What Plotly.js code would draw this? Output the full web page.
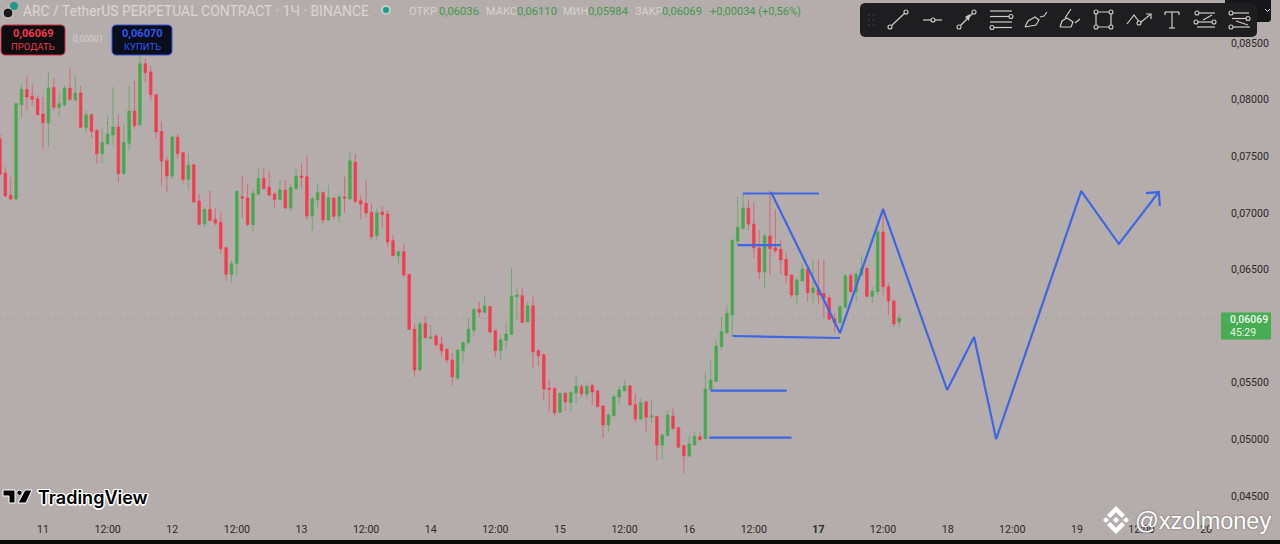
<!DOCTYPE html>
<html><head><meta charset="utf-8">
<script src="https://cdn.plot.ly/plotly-3.0.1.min.js"></script>
<style>html,body{margin:0;padding:0;background:#b5adab;overflow:hidden}#c{width:1280px;height:544px}</style>
</head><body><div id="c"></div>
<script>
// Hourly ARC/USDT candles; first candle is 8 hours before the "11" date tick
const firstHour = -8;
const opens = [0.07655,0.07352,0.07155,0.07122,0.07955,0.08091,0.08029,0.08008,0.07873,0.07793,0.08108,0.07932,0.07955,0.08102,0.07996,0.08058,0.07752,0.07867,0.07729,0.07523,0.07611,0.07687,0.07758,0.07346,0.07614,0.07899,0.07779,0.08317,0.08244,0.08043,0.07720,0.07461,0.07325,0.07670,0.07531,0.07296,0.07425,0.07105,0.06904,0.07031,0.06943,0.06916,0.06693,0.06457,0.06551,0.07143,0.07131,0.06898,0.07166,0.07305,0.07228,0.07166,0.07119,0.07202,0.07043,0.07213,0.07325,0.07319,0.06972,0.07113,0.07181,0.06937,0.07131,0.06972,0.07140,0.07122,0.07449,0.07108,0.07084,0.07005,0.06796,0.07008,0.06990,0.06755,0.06622,0.06657,0.06457,0.05972,0.05613,0.06025,0.05892,0.05913,0.05842,0.05795,0.05701,0.05542,0.05783,0.05854,0.05963,0.06148,0.06122,0.06172,0.05960,0.05783,0.05872,0.05927,0.06260,0.06269,0.06039,0.06180,0.05783,0.05748,0.05451,0.05451,0.05239,0.05407,0.05327,0.05409,0.05465,0.05401,0.05477,0.05427,0.05295,0.05127,0.05209,0.05371,0.05430,0.05474,0.05309,0.05180,0.05330,0.05198,0.05203,0.04950,0.05033,0.05206,0.05103,0.04944,0.04853,0.04950,0.05024,0.05006,0.05442,0.05512,0.05818,0.05942,0.06101,0.06751,0.06863,0.07043,0.06902,0.06690,0.06478,0.06796,0.06690,0.06678,0.06590,0.06451,0.06275,0.06401,0.06504,0.06295,0.06325,0.06289,0.06251,0.06066,0.06030,0.06166,0.06445,0.06304,0.06451,0.06510,0.06263,0.06304,0.06831,0.06348,0.06222,0.06036];
const highs = [0.07699,0.07405,0.07316,0.07970,0.08141,0.08208,0.08132,0.08038,0.08023,0.08244,0.08191,0.08043,0.08126,0.08279,0.08214,0.08120,0.07905,0.07876,0.07743,0.07743,0.07861,0.08111,0.07867,0.07787,0.08120,0.08170,0.08420,0.08367,0.08297,0.08043,0.07808,0.07493,0.07684,0.07699,0.07537,0.07523,0.07425,0.07169,0.07037,0.07199,0.07043,0.07007,0.06693,0.06581,0.07193,0.07325,0.07260,0.07202,0.07393,0.07393,0.07372,0.07187,0.07290,0.07290,0.07252,0.07393,0.07437,0.07505,0.07143,0.07255,0.07187,0.07246,0.07137,0.07157,0.07319,0.07531,0.07520,0.07157,0.07284,0.07084,0.07040,0.07061,0.07025,0.06805,0.06663,0.06731,0.06460,0.06025,0.06040,0.06090,0.06010,0.05930,0.05907,0.05804,0.05760,0.05795,0.05863,0.06069,0.06157,0.06216,0.06260,0.06178,0.05966,0.05922,0.06039,0.06519,0.06342,0.06334,0.06216,0.06260,0.05795,0.05754,0.05524,0.05459,0.05412,0.05421,0.05421,0.05560,0.05489,0.05501,0.05489,0.05436,0.05303,0.05230,0.05401,0.05471,0.05524,0.05480,0.05407,0.05362,0.05342,0.05342,0.05206,0.05053,0.05259,0.05274,0.05112,0.04950,0.05030,0.05068,0.05068,0.05589,0.05701,0.05877,0.06077,0.06186,0.06760,0.07140,0.07166,0.07119,0.07090,0.06843,0.06819,0.07196,0.07031,0.06760,0.06643,0.06457,0.06422,0.06554,0.06519,0.06584,0.06590,0.06584,0.06275,0.06113,0.06186,0.06466,0.06472,0.06481,0.06628,0.06519,0.06348,0.06849,0.07040,0.06378,0.06231,0.06110];
const lows = [0.07331,0.07140,0.07116,0.07116,0.07837,0.07905,0.07949,0.07861,0.07561,0.07581,0.07905,0.07861,0.07943,0.07993,0.07990,0.07749,0.07708,0.07661,0.07440,0.07440,0.07602,0.07596,0.07272,0.07340,0.07552,0.07743,0.07773,0.08155,0.07993,0.07655,0.07243,0.07184,0.07302,0.07478,0.07258,0.07208,0.07090,0.06890,0.06875,0.06919,0.06890,0.06640,0.06404,0.06384,0.06448,0.06951,0.06884,0.06834,0.07157,0.07202,0.07149,0.07046,0.07113,0.07037,0.07019,0.07208,0.07216,0.06937,0.06843,0.07040,0.06908,0.06931,0.06943,0.06922,0.07001,0.07119,0.07093,0.06943,0.06961,0.06766,0.06761,0.06864,0.06702,0.06616,0.06549,0.06431,0.05966,0.05554,0.05607,0.05892,0.05886,0.05819,0.05731,0.05672,0.05480,0.05536,0.05672,0.05842,0.05913,0.06077,0.06113,0.05936,0.05730,0.05701,0.05795,0.05922,0.06054,0.06030,0.06033,0.05636,0.05648,0.05342,0.05245,0.05200,0.05233,0.05250,0.05253,0.05318,0.05371,0.05354,0.05303,0.05283,0.05009,0.05059,0.05203,0.05303,0.05421,0.05295,0.05148,0.05174,0.05068,0.05142,0.04812,0.04818,0.05027,0.05083,0.04924,0.04700,0.04847,0.04944,0.04989,0.05000,0.05436,0.05507,0.05789,0.05936,0.05907,0.06716,0.06849,0.06849,0.06598,0.06413,0.06333,0.06451,0.06648,0.06460,0.06378,0.06254,0.06195,0.06392,0.06216,0.06207,0.06195,0.06077,0.06054,0.05942,0.06025,0.06160,0.06295,0.06216,0.06442,0.06254,0.06207,0.06275,0.06275,0.06098,0.05995,0.05984];
const closes = [0.07340,0.07149,0.07122,0.07964,0.08091,0.08023,0.08002,0.07867,0.07796,0.08102,0.07932,0.07964,0.08102,0.08002,0.08058,0.07755,0.07867,0.07720,0.07523,0.07620,0.07696,0.07758,0.07346,0.07620,0.07899,0.07770,0.08317,0.08238,0.08043,0.07714,0.07458,0.07325,0.07670,0.07523,0.07296,0.07420,0.07096,0.06899,0.07031,0.06934,0.06910,0.06684,0.06457,0.06551,0.07190,0.07131,0.06898,0.07172,0.07302,0.07216,0.07157,0.07119,0.07202,0.07043,0.07222,0.07325,0.07313,0.06972,0.07122,0.07181,0.06937,0.07134,0.06969,0.07140,0.07131,0.07461,0.07099,0.07078,0.06999,0.06790,0.06999,0.06984,0.06743,0.06622,0.06657,0.06451,0.05972,0.05613,0.06019,0.05898,0.05904,0.05836,0.05783,0.05701,0.05554,0.05789,0.05854,0.05972,0.06148,0.06122,0.06178,0.05948,0.05783,0.05880,0.05930,0.06266,0.06275,0.06033,0.06180,0.05771,0.05736,0.05445,0.05442,0.05236,0.05407,0.05330,0.05415,0.05471,0.05401,0.05468,0.05418,0.05289,0.05127,0.05215,0.05377,0.05436,0.05471,0.05303,0.05180,0.05324,0.05195,0.05206,0.04950,0.05039,0.05215,0.05097,0.04930,0.04853,0.04959,0.05027,0.04997,0.05445,0.05524,0.05824,0.05951,0.06113,0.06760,0.06872,0.07043,0.06902,0.06690,0.06478,0.06796,0.06684,0.06666,0.06584,0.06448,0.06275,0.06407,0.06504,0.06295,0.06336,0.06275,0.06248,0.06060,0.06030,0.06172,0.06445,0.06304,0.06457,0.06510,0.06263,0.06307,0.06834,0.06348,0.06222,0.06019,0.06069];

// Drawn forecast zigzag and level lines (hours since the "11" tick, price)
const zigzagHours = [135.2,148,156,167.9,172.9,177,192.8,199.8,207.2];
const zigzagPrices = [0.07184,0.05939,0.07034,0.05436,0.05904,0.05003,0.07193,0.06725,0.07184];
const arrowHours = [204.8,207.2,207.4];
const arrowPrices = [0.07175,0.07184,0.07061];
const levelHours = [[130,144.1],[129,137],[128.1,148],[124,138.1],[123.7,139]];
const levelPrices = [[0.07171,0.07171],[0.06716,0.06716],[0.05913,0.05895],[0.0543,0.0543],[0.05015,0.05015]];

const lastPrice = 0.06069;
const priceTicks = [0.085,0.08,0.075,0.07,0.065,0.055,0.05,0.045];
const priceLabels = ["0,08500","0,08000","0,07500","0,07000","0,06500","0,05500","0,05000","0,04500"];
const timeTicks = [0,12,24,36,48,60,72,84,96,108,120,132,144,156,168,180,192,204,216];
const timeLabels = ["11","12:00","12","12:00","13","12:00","14","12:00","15","12:00","16","12:00","<b>17</b>","12:00","18","12:00","19","12:00","20"];

const BG="#b5adab", RED="#f23c50", GREEN="#46a84f", BLUE="#3e66e6";
const PW=1219, PH=514;
const FX=x=>x/PW, FY=y=>1-y/PH;
const hours = opens.map((_,i)=>firstHour+i);

const traces=[{
  type:"candlestick",x:hours,open:opens,high:highs,low:lows,close:closes,
  increasing:{line:{color:"rgba(70,168,79,0.62)",width:1},fillcolor:GREEN},
  decreasing:{line:{color:"rgba(242,60,80,0.62)",width:1},fillcolor:RED},
  hoverinfo:"skip",showlegend:false
}];
const blue=(x,y)=>({type:"scatter",mode:"lines",x,y,line:{color:BLUE,width:2.2},hoverinfo:"skip",showlegend:false});
levelHours.forEach((h,i)=>traces.push(blue(h,levelPrices[i])));
traces.push(blue(zigzagHours,zigzagPrices));
traces.push(blue(arrowHours,arrowPrices));

// Helpers for the interface overlay, in screen pixels
const shapes=[], ann=[];
function poly(pts,o){o=o||{};
  const d=pts.map((p,i)=>(i?"L":"M")+FX(p[0])+" "+FY(p[1])).join(" ")+(o.close?" Z":"");
  shapes.push({type:"path",path:d,xref:"paper",yref:"paper",layer:"above",fillcolor:o.fill||"rgba(0,0,0,0)",line:{color:o.color||"rgba(0,0,0,0)",width:o.w==null?1:o.w}});
}
function circ(cx,cy,r,o){o=o||{};
  shapes.push({type:"circle",xref:"paper",yref:"paper",layer:"above",x0:FX(cx-r),x1:FX(cx+r),y0:FY(cy+r),y1:FY(cy-r),fillcolor:o.fill||"rgba(0,0,0,0)",line:{color:o.color||"rgba(0,0,0,0)",width:o.w==null?1:o.w}});
}
function rrect(x0,y0,x1,y1,r,o){
  const pts=[];const n=4;
  [[x1-r,y0+r,-90],[x1-r,y1-r,0],[x0+r,y1-r,90],[x0+r,y0+r,180]].forEach(c=>{
    for(let k=0;k<=n;k++){const a=(c[2]+k*90/n)*Math.PI/180;pts.push([c[0]+r*Math.cos(a),c[1]+r*Math.sin(a)]);}
  });
  poly(pts,Object.assign({close:true},o));
}
function label(x,y,text,size,color,o){o=o||{};
  ann.push(Object.assign({xref:"paper",yref:"paper",x:FX(x),y:FY(y),text,showarrow:false,xanchor:o.anchor||"left",yanchor:"middle",borderpad:0,
    font:{family:o.family||"Roboto, sans-serif",size,color,weight:o.weight||400,shadow:o.shadow||"none"}},{}));
}
const dia=(cx,cy,r)=>[[cx,cy-r],[cx+r,cy],[cx,cy+r],[cx-r,cy]];

// Header
label(22,11,"ARC / TetherUS PERPETUAL CONTRACT · 1Ч · BINANCE",13.9,"#d9d5d3");
circ(14,6,4,{fill:"#1f9a8c"}); circ(8,13,5,{fill:"#1a1a1a",color:"#dcd8d6",w:1});
circ(386,10,5,{fill:"#c5cdc8"}); circ(386,10,3,{fill:"#12a08c"});
[[408,"ОТКР",438,"0,06036"],[485,"МАКС",516,"0,06110"],[562,"МИН",587,"0,05984"],[634,"ЗАКР",661,"0,06069"]].forEach(r=>{
  label(r[0],11,r[1],11,"#d6d1cf"); label(r[2],11,r[3],11.2,"#3f9a4b");
});
label(709,11,"+0,00034 (+0,56%)",11,"#3f9a4b");

// Buy / sell buttons
rrect(1,25,65,55,4,{fill:"#0d0d10",color:"#d8283c",w:1});
rrect(112,25,172,55,4,{fill:"#0a0d1c",color:"#3354d8",w:1});
label(33,34,"0,06069",11,"#f5364c",{anchor:"center",weight:700});
label(33,46,"ПРОДАТЬ",9.5,"#e8394c",{anchor:"center"});
label(88,39,"0,00001",8.5,"#d6d1cf",{anchor:"center"});
label(142,34,"0,06070",11,"#3258f0",{anchor:"center",weight:700});
label(142,46,"КУПИТЬ",9.5,"#3258f0",{anchor:"center"});

// Drawing toolbar
rrect(1225,-2,1271,22,3,{fill:"#17171a"});
poly([[1268,9],[1270.5,11.5],[1273,9]].map(p=>[p[0]-3,p[1]]),{color:"#d8d8d8",w:1});
rrect(860,3,1257,37,5,{fill:"#1e1e20"});
const IC="#cfcac6";
for(const gx of [868,872.5]) for(const gy of [15,20,25]) circ(gx+1,gy,0.7,{fill:"#55524f"});
const L=(a,o)=>poly(a,Object.assign({color:IC,w:1.2},o||{}));
const C=(x,y,r)=>circ(x,y,r||2,{color:IC,w:1.1,fill:"#1e1e20"});
L([[890,27],[906,12]]); C(890,27); C(906,12);
L([[923,20],[942,20]]); C(933,20);
L([[959,27],[974,12]]); C(959,27); C(974,12); poly([[970,14],[965,17],[969,21]],{fill:IC,close:true});
L([[990,11],[1012,11]]); L([[990,16.5],[1009,16.5]]); C(1011,16.5); L([[990,22],[1012,22]]); L([[994,27.5],[1012,27.5]]); C(992,27.5);
L([[1025,27],[1028,21],[1035,17],[1039,20],[1036,25],[1025,27]]); L([[1040,17],[1044,16],[1047,12]]);
L([[1060,27],[1062,21],[1067,18],[1073,22],[1071,27],[1060,27]]); L([[1065,18],[1071,9]]); L([[1075,23],[1080,19]]);
L([[1096,12],[1111,12],[1111,27],[1096,27],[1096,12]]); C(1096,12); C(1111,12); C(1096,27); C(1111,27);
L([[1127,24],[1134,15],[1140,23],[1151,14]]); C(1139,23); L([[1146,14],[1151,14],[1151,19]]);
L([[1165,12],[1179,12]]); L([[1172,12],[1172,28]]); L([[1169,28],[1175,28]]); L([[1165,12],[1165,15]]); L([[1179,12],[1179,15]]);
L([[1198,13],[1215,13]]); C(1197,13); L([[1198,22],[1212,22]]); C(1196,22); C(1214,22); L([[1197,27],[1215,27]]); L([[1203,20],[1212,15]]);
L([[1232,13],[1249,13]]); C(1231,13); L([[1232,18.5],[1247,18.5]]); C(1248,18.5); L([[1233,27],[1250,27]]); C(1231,27); L([[1236,21],[1248,25]]);

// Last price badge
shapes.push({type:"line",xref:"paper",yref:"y",layer:"below",x0:0,x1:1,y0:lastPrice,y1:lastPrice,line:{color:"rgba(126,168,120,0.42)",width:1,dash:"dot"}});
shapes.push({type:"rect",xref:"paper",yref:"paper",layer:"above",x0:FX(1221),x1:FX(1271),y0:FY(339.5),y1:FY(312.5),fillcolor:"#46ad52",line:{width:0}});
label(1229,319,"0,06069",10.5,"#f2f6f0",{weight:500});
label(1229,332,"45:29",10.5,"#e6f2e4");

// TradingView mark
const HALO="1.5px 0 0 #fff,-1.5px 0 0 #fff,0 1.5px 0 #fff,0 -1.5px 0 #fff,1px 1px 0 #fff,-1px -1px 0 #fff,1px -1px 0 #fff,-1px 1px 0 #fff";
poly([[3,490],[15,490],[15,503],[9,503],[9,496],[3,496]],{fill:"#000",color:"#fff",w:1,close:true});
circ(19.5,492.8,2.6,{fill:"#000",color:"#fff",w:0.8});
poly([[25,490],[32,490],[26,503],[18,503]],{fill:"#000",color:"#fff",w:1,close:true});
label(37,497,"TradingView",18,"#000",{family:"Inter, Roboto, sans-serif",weight:600,shadow:HALO});

// Binance watermark
const WS="#ffffff";
poly([[1116,506],[1125,515],[1121.8,518],[1116,512.3],[1110.2,518],[1107,515]],{fill:WS,close:true});
poly([[1116,534],[1125,525],[1121.8,522],[1116,527.7],[1110.2,522],[1107,525]],{fill:WS,close:true});
poly(dia(1116,520,3.2),{fill:WS,close:true});
poly(dia(1106,520,3),{fill:WS,close:true});
poly(dia(1126,520,3),{fill:WS,close:true});
label(1134,521,"@xzolmoney",23.5,"#ffffff",{family:"Liberation Sans, Arial, sans-serif",shadow:"0 0 2px rgba(60,60,60,0.7)"});

// Bottom edge of the screenshot
shapes.push({type:"rect",xref:"paper",yref:"paper",layer:"above",x0:0,x1:1280/PW,y0:FY(544),y1:FY(540),fillcolor:"#0b0b0b",line:{width:0}});

const axisFont={family:"Roboto, sans-serif",size:10.6,color:"#2c2a2a"};
const layout={
  width:1280,height:544,margin:{l:0,r:61,t:0,b:30,pad:0},
  paper_bgcolor:BG,plot_bgcolor:BG,showlegend:false,dragmode:false,
  xaxis:{type:"linear",range:[(0-43)/5.385,(PW-43)/5.385],rangeslider:{visible:false},showgrid:false,zeroline:false,showline:false,
    tickmode:"array",tickvals:timeTicks,ticktext:timeLabels,tickfont:axisFont,ticks:"outside",ticklen:5,tickcolor:"rgba(0,0,0,0)",fixedrange:true},
  yaxis:{type:"linear",side:"right",range:[0.085-(PH-43)/11325,0.085+43/11325],showgrid:false,zeroline:false,showline:false,
    tickmode:"array",tickvals:priceTicks,ticktext:priceLabels,tickfont:axisFont,ticks:"outside",ticklen:9,tickcolor:"rgba(0,0,0,0)",fixedrange:true},
  shapes,annotations:ann
};
Plotly.newPlot("c",traces,layout,{displayModeBar:false,staticPlot:true});
</script></body></html>
